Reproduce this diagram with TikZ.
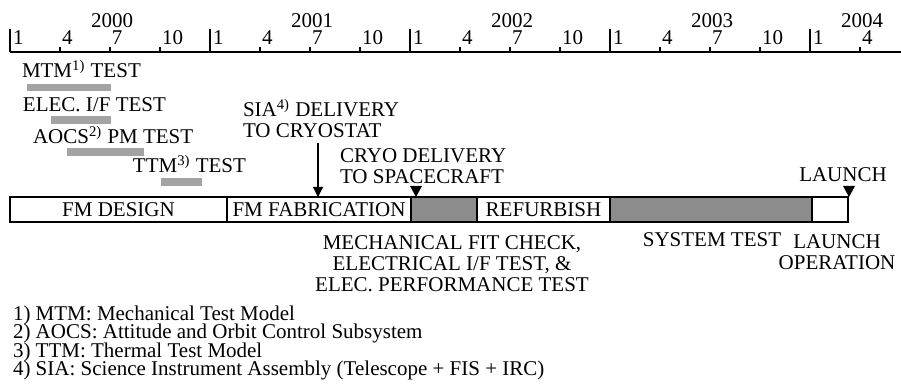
\documentclass[tikz,border=0pt]{standalone}
\usepackage{fontspec}
\setmainfont{Liberation Serif}
\usetikzlibrary{arrows.meta, positioning}
\definecolor{barGray}{HTML}{8C8C8C}
\definecolor{testGray}{HTML}{A3A3A3}
\newcommand\notefont{\fontsize{10.5}{9.33}\selectfont\lineskiplimit=-20pt\relax}

\begin{document}
\begin{tikzpicture}[x=0.5pt, y=-0.5pt,
  every node/.style={font=\fontsize{10.5}{10.5}\selectfont, inner sep=0pt, outer sep=0pt},
  lbl/.style={anchor=base west, align=left},
  seg/.style={draw, line width=0.75pt, minimum height=12.5pt},
  graySeg/.style={seg, fill=barGray},
  testbar/.style={fill=testGray},
  marker/.style={fill=black},
  arr/.style={-{Triangle[length=5pt, width=5pt]}, line width=0.6pt}
]
\useasboundingbox (0,0) rectangle (901,389);

% time axis
\draw[line width=0.8pt] (10,52) -- (901,52);
\foreach \yr [count=\i from 0] in {2000,2001,2002,2003,2004} {
  \draw[line width=0.8pt] (10+200*\i,29) -- (10+200*\i,52);
  \node[lbl] (mon\i-1) at (13+200*\i,45) {1};
}
\foreach \yr [count=\i from 0] in {2000,2001,2002,2003} {
  \node[anchor=base] (year\yr) at (112+200*\i,28) {\yr};
  \foreach \m/\dx in {4/50,7/100,10/150} {
    \draw[line width=0.8pt] (10+200*\i+\dx,47) -- ++(0,5);
    \node[lbl] (mon\i-\m) at (12+200*\i+\dx,45) {\m};
  }
}
\node[anchor=base] (year2004) at (862,28) {2004};
\draw[line width=0.8pt] (860,47) -- ++(0,5);
\node[lbl] (mon4-4) at (862,45) {4};

% early tests
\fill[testbar] (27,84) rectangle (111,91);
\fill[testbar] (51,116) rectangle (111,124);
\fill[testbar] (67,148) rectangle (144,156);
\fill[testbar] (161,178) rectangle (202,186);
\node[lbl] (mtm) at (22,78) {MTM\textsuperscript{1)} TEST};
\node[lbl] (elec) at (23,112) {ELEC. I/F TEST};
\node[lbl] (aocs) at (33,144) {AOCS\textsuperscript{2)} PM TEST};
\node[lbl] (ttm) at (133,173) {TTM\textsuperscript{3)} TEST};

% main schedule bar
\node[seg, anchor=north west, minimum width=108.5pt] (design) at (10,197) {FM DESIGN};
\node[seg, minimum width=92pt, right=0pt of design] (fab) {FM FABRICATION};
\node[graySeg, minimum width=33pt, right=0pt of fab] (fitcheck) {};
\node[seg, minimum width=66.5pt, right=0pt of fitcheck] (refurb) {REFURBISH};
\node[graySeg, minimum width=101pt, right=0pt of refurb] (systest) {};
\node[seg, minimum width=18pt, right=0pt of systest] (launchop) {};

% milestones
\node[lbl] (sia) at (243,138) {SIA\textsuperscript{4)} DELIVERY\\TO CRYOSTAT};
\draw[arr] ([yshift=-2.5pt]sia.south -| 318,0) -- (318,0 |- fab.north);
\node[lbl] (cryo) at (340,184) {CRYO DELIVERY\\TO SPACECRAFT};
\coordinate (cryoTip) at (416,197);
\fill[marker] (cryoTip) -- ++(-6,-11) -- ++(12,0) -- cycle;
\node[anchor=base] (launch) at (843,182) {LAUNCH};
\coordinate (launchTip) at (849,197);
\fill[marker] (launchTip) -- ++(-6,-11) -- ++(12,0) -- cycle;

% labels under the bar
\node[anchor=base, align=center] (mech) at (452,292) {MECHANICAL FIT CHECK,\\ELECTRICAL I/F TEST, \&\\ELEC. PERFORMANCE TEST};
\node[anchor=base] (systestlbl) at (712,247) {SYSTEM TEST};
\node[anchor=base, align=center] (launchlbl) at (837,270) {LAUNCH\\OPERATION};

% footnotes
\node[lbl, font=\notefont] (notes) at (13,376) {1) MTM: Mechanical Test Model\\
  2) AOCS: Attitude and Orbit Control Subsystem\\
  3) TTM: Thermal Test Model\\
  4) SIA: Science Instrument Assembly (Telescope + FIS + IRC)};
\end{tikzpicture}
\end{document}
